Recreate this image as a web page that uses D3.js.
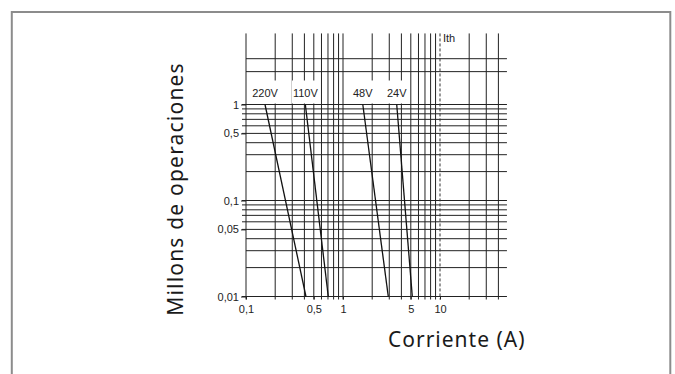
<!DOCTYPE html>
<html>
<head>
<meta charset="utf-8">
<script src="https://cdn.jsdelivr.net/npm/d3@7"></script>
<style>
  body { margin: 0; background: #fff; }
  svg { display: block; }
</style>
</head>
<body>
<svg width="675" height="374"></svg>
<script>
// curves: current (A) at 1 M ops and at 0,01 M ops
const voltages = ['220V', '110V', '48V', '24V']
const currentAt1M = [0.157, 0.409, 1.6, 3.58]
const currentAt001M = [0.415, 0.705, 2.93, 5.18]
const opsEnds = [1, 0.01]

const xGrid = [0.1, 0.2, 0.3, 0.4, 0.5, 0.6, 0.7, 0.8, 0.9, 1, 2, 3, 4, 5, 6, 7, 8, 9, 20, 30, 40]
const yGrid = [0.01, 0.02, 0.03, 0.04, 0.05, 0.06, 0.07, 0.08, 0.09,
               0.1, 0.2, 0.3, 0.4, 0.5, 0.6, 0.7, 0.8, 0.9, 1, 2.2, 3]
const xLabels = [0.1, 0.5, 1, 5, 10]
const yLabels = [1, 0.5, 0.1, 0.05, 0.01]
const ith = 10
const xMax = 49
const yMax = 5.5

const fmt = d => String(d).replace('.', ',')

const xScale = d3.scaleLog().domain([0.1, 10]).range([246, 440])
const yScale = d3.scaleLog().domain([0.01, 1]).range([296.5, 104.5])

const svg = d3.select('svg')

// frame
svg.append('rect')
   .attr('x', 11.8).attr('y', 12)
   .attr('width', 658.5).attr('height', 420)
   .attr('fill', 'none')
   .attr('stroke', '#8c8c8c')
   .attr('stroke-width', 2)

const chart = svg.append('g')
const yTop = yScale(yMax)
const yBot = yScale(0.01)

// horizontal grid
const leftTick = v => (v >= 0.499 && v <= 1.001) || (v >= 0.0499 && v <= 0.1001) || v === 0.01
chart.selectAll('.hgrid')
     .data(yGrid)
     .enter()
     .append('line')
     .classed('hgrid', true)
     .attr('x1', d => leftTick(d) ? xScale(0.1) - 4 : xScale(0.1))
     .attr('x2', xScale(xMax))
     .attr('y1', d => yScale(d))
     .attr('y2', d => yScale(d))
     .attr('stroke', '#222')
     .attr('stroke-width', 1)

// vertical grid
chart.selectAll('.vgrid')
     .data(xGrid)
     .enter()
     .append('line')
     .classed('vgrid', true)
     .attr('x1', d => xScale(d))
     .attr('x2', d => xScale(d))
     .attr('y1', yTop)
     .attr('y2', yBot + 3)
     .attr('stroke', '#222')
     .attr('stroke-width', 1)

// Ith dashed line
chart.append('line')
     .attr('x1', xScale(ith)).attr('x2', xScale(ith))
     .attr('y1', yTop).attr('y2', yBot + 3)
     .attr('stroke', '#333')
     .attr('stroke-dasharray', '3,2')
chart.append('text')
     .attr('x', xScale(ith) + 3)
     .attr('y', yTop + 9)
     .attr('font-family', 'Liberation Sans, Arial, sans-serif')
     .attr('font-size', 11)
     .attr('fill', '#222')
     .text('Ith')

// axes (labels only)
const yAxis = chart.append('g')
     .attr('transform', `translate(${xScale(0.1)},0)`)
     .call(d3.axisLeft(yScale).tickValues(yLabels).tickFormat(fmt).tickSize(5).tickPadding(2))
yAxis.select('.domain').remove()
const xAxis = chart.append('g')
     .attr('transform', `translate(0,${yBot})`)
     .call(d3.axisBottom(xScale).tickValues(xLabels).tickFormat(fmt).tickSize(3).tickPadding(6))
xAxis.select('.domain').remove()
chart.selectAll('.tick text')
     .attr('font-family', 'Liberation Sans, Arial, sans-serif')
     .attr('font-size', 11)
     .attr('fill', '#222')
chart.selectAll('.tick line').attr('stroke', '#222')

// curve lines
const curves = voltages.map((v, i) => ({
    name: v,
    pts: [[currentAt1M[i], opsEnds[0]], [currentAt001M[i], opsEnds[1]]]
}))
const line = d3.line().x(d => xScale(d[0])).y(d => yScale(d[1]))
chart.selectAll('.curve')
     .data(curves)
     .enter()
     .append('path')
     .classed('curve', true)
     .attr('d', d => line(d.pts))
     .attr('fill', 'none')
     .attr('stroke', '#111')
     .attr('stroke-width', 1.3)

// voltage labels with white boxes
const lab = chart.selectAll('.vlabel')
     .data(curves)
     .enter()
     .append('g')
     .classed('vlabel', true)
lab.append('text')
   .attr('x', d => xScale(d.pts[0][0]))
   .attr('y', yScale(1) - 8)
   .attr('text-anchor', 'middle')
   .attr('font-family', 'Liberation Sans, Arial, sans-serif')
   .attr('font-size', 11)
   .attr('fill', '#222')
   .text(d => d.name)
lab.each(function () {
    const g = d3.select(this)
    const bb = g.select('text').node().getBBox()
    g.insert('rect', 'text')
     .attr('x', bb.x - 1)
     .attr('y', yScale(1) - 24)
     .attr('width', bb.width + 2)
     .attr('height', 23)
     .attr('fill', '#fff')
})

// axis titles
svg.append('text')
   .attr('transform', 'translate(183,189) rotate(-90)')
   .attr('text-anchor', 'middle')
   .attr('font-family', 'Noto Sans, sans-serif')
   .attr('font-size', 21)
   .attr('letter-spacing', 1.2)
   .attr('fill', '#1a1a1a')
   .text('Millons de operaciones')
svg.append('text')
   .attr('x', 388)
   .attr('y', 346.5)
   .attr('font-family', 'Noto Sans, sans-serif')
   .attr('font-size', 21)
   .attr('letter-spacing', 1)
   .attr('fill', '#1a1a1a')
   .text('Corriente (A)')
</script>
</body>
</html>
